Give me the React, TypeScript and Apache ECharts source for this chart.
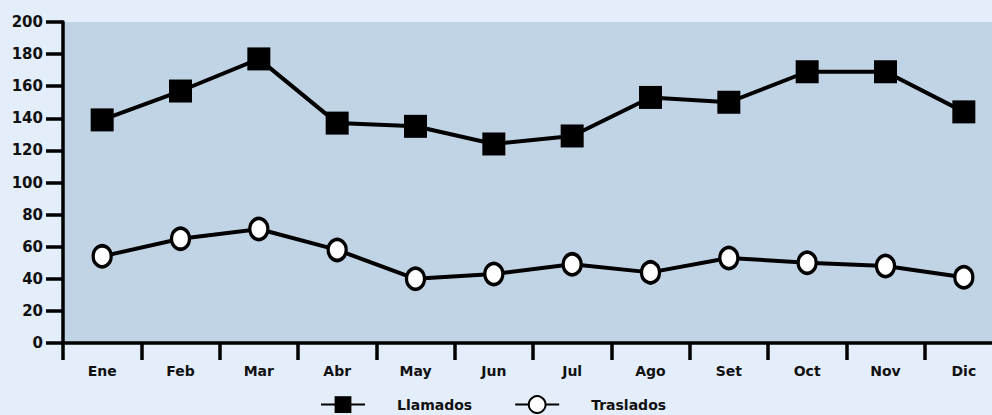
import React, { useEffect, useRef } from "react";
import * as echarts from "echarts";

const months = ["Ene", "Feb", "Mar", "Abr", "May", "Jun", "Jul", "Ago", "Set", "Oct", "Nov", "Dic"];
const llamados = [139, 157, 177, 137, 135, 124, 129, 153, 150, 169, 169, 144];
const traslados = [54, 65, 71, 58, 40, 43, 49, 44, 53, 50, 48, 41];
const seriesNames = ["Llamados", "Traslados"];

const FONT = "DejaVu Sans";

export default function App() {
  const ref = useRef<HTMLDivElement>(null);

  useEffect(() => {
    if (!ref.current) return;
    const chart = echarts.init(ref.current, undefined, { renderer: "svg" });
    chart.setOption({
      animation: false,
      backgroundColor: "#e3eefa",
      textStyle: { fontFamily: FONT },
      grid: {
        left: 63,
        top: 22,
        width: 940,
        height: 321,
        outerBoundsMode: "none",
        containLabel: false,
        show: true,
        backgroundColor: "#c0d4e5",
        borderWidth: 0,
      },
      legend: {
        bottom: -4,
        left: 315,
        itemWidth: 44,
        itemHeight: 21,
        itemGap: 42,
        textStyle: {
          fontFamily: FONT,
          fontWeight: "bold",
          fontSize: 14,
          color: "#111",
          padding: [0, 0, 0, 27],
        },
        data: seriesNames,
      },
      xAxis: {
        type: "category",
        data: months,
        boundaryGap: true,
        axisLine: { lineStyle: { color: "#000", width: 3.5 } },
        axisTick: { show: true, length: 17, interval: 0, lineStyle: { color: "#000", width: 3.5 } },
        axisLabel: {
          margin: 21,
          interval: 0,
          fontFamily: FONT,
          fontWeight: "bold",
          fontSize: 14,
          color: "#111",
        },
        splitLine: { show: false },
      },
      yAxis: {
        type: "value",
        min: 0,
        max: 200,
        interval: 20,
        axisLine: { show: true, lineStyle: { color: "#000", width: 3.5 } },
        axisTick: { show: true, length: 17, lineStyle: { color: "#000", width: 3.5 } },
        axisLabel: {
          margin: 20,
          fontFamily: FONT,
          fontWeight: "bold",
          fontSize: 15,
          color: "#111",
        },
        splitLine: { show: false },
      },
      series: [
        {
          name: seriesNames[0],
          type: "line",
          data: llamados,
          symbol: "rect",
          symbolSize: 23,
          lineStyle: { color: "#000", width: 4 },
          itemStyle: { color: "#000", borderWidth: 0 },
          z: 3,
        },
        {
          name: seriesNames[1],
          type: "line",
          data: traslados,
          symbol: "circle",
          symbolSize: [18, 21],
          lineStyle: { color: "#000", width: 4 },
          itemStyle: { color: "#fff", borderColor: "#000", borderWidth: 3.5 },
          z: 3,
        },
      ],
    });
    return () => chart.dispose();
  }, []);

  return <div ref={ref} style={{ width: 992, height: 415, position: "absolute", left: 0, top: 0 }} />;
}
